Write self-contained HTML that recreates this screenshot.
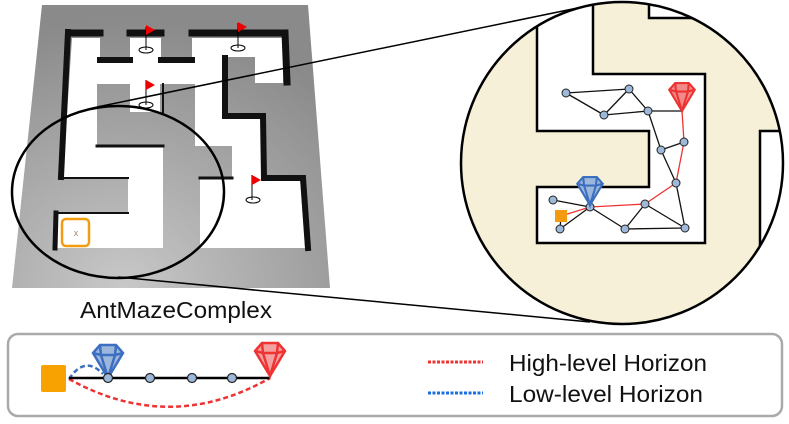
<!DOCTYPE html>
<html><head><meta charset="utf-8"><style>
html,body{margin:0;padding:0;background:#fff;}
svg{display:block;font-family:"Liberation Sans",sans-serif;}
</style></head><body>
<svg width="789" height="424" viewBox="0 0 789 424" xmlns="http://www.w3.org/2000/svg">
<defs>
<radialGradient id="gg" cx="0.35" cy="1" r="0.95">
<stop offset="0" stop-color="#c8c8c8"/><stop offset="1" stop-color="#8a8a8a"/>
</radialGradient>
<clipPath id="cc"><circle cx="622" cy="163" r="161"/></clipPath>
<g id="gem">
<polygon points="-8,0 8,0 15,8 0,33 -15,8" />
<polyline points="-15,8 -7,10 0,33 7,10 15,8" fill="none"/>
<polyline points="-8,0 -7,10 7,10 8,0" fill="none"/>
</g>
</defs>
<!-- left maze -->
<polygon points="42,5 308,5 330,288 12,288" fill="url(#gg)"/>
<polygon fill="#fff" points="72,38 100,38 100,60 130,60 130,38 161,38 161,60 192,60 192,38 283,38 283,83 255,83 255,57 223,57 223,115 262,115 262,178 300,178 305,248 200,248 200,178 232,178 232,146 195,146 195,84 160,84 160,112 130,112 130,84 97,84 97,146 163,146 163,248 57,248 57,213 128,213 128,178 63,178"/>
<g stroke="#111" fill="none" stroke-linecap="square">
<line x1="68" y1="32" x2="61" y2="177" stroke-width="6"/>
<line x1="70" y1="33" x2="100" y2="33" stroke-width="7"/>
<line x1="130" y1="33" x2="161" y2="33" stroke-width="7"/>
<line x1="192" y1="33" x2="283" y2="33" stroke-width="7"/>
<line x1="285" y1="33" x2="287" y2="82" stroke-width="7"/>
<line x1="100" y1="60" x2="130" y2="60" stroke-width="6"/>
<line x1="161" y1="60" x2="192" y2="60" stroke-width="6"/>
<polyline points="225,58 225,116 263,116 264,178 303,178 308,248" stroke-width="6"/>
<line x1="97" y1="146" x2="163" y2="146" stroke-width="3"/>
<line x1="62" y1="178" x2="128" y2="178" stroke-width="2"/>
<line x1="56" y1="213" x2="55" y2="248" stroke-width="5"/>
<line x1="57" y1="213" x2="128" y2="213" stroke-width="2"/>
<line x1="163" y1="84" x2="163" y2="112" stroke-width="2"/>
<line x1="200" y1="178" x2="232" y2="178" stroke-width="3"/>
</g>
<g stroke="#000" stroke-width="1" fill="none">
<ellipse cx="146" cy="50" rx="7" ry="3"/><line x1="146" y1="27" x2="146" y2="50"/>
<ellipse cx="238" cy="48" rx="7" ry="3"/><line x1="238" y1="23" x2="238" y2="48"/>
<ellipse cx="146" cy="105" rx="7" ry="3"/><line x1="146" y1="80" x2="146" y2="105"/>
<ellipse cx="253" cy="200" rx="7" ry="3"/><line x1="252" y1="175" x2="252" y2="200"/>
</g>
<g fill="#e00">
<polygon points="146,25 155,30 146,35"/><polygon points="238,22 247,27 238,32"/>
<polygon points="146,80 155,85 146,90"/><polygon points="252,175 261,180 252,185"/>
</g>
<rect x="62" y="219" width="27" height="27" rx="4" fill="none" stroke="#f39c12" stroke-width="2.5"/>
<text x="76" y="236" font-size="9" fill="#a87" text-anchor="middle">x</text>
<ellipse cx="118" cy="192" rx="106" ry="86" fill="none" stroke="#000" stroke-width="2.5"/>
<line x1="97" y1="107" x2="592" y2="5" stroke="#000" stroke-width="1.5"/>
<line x1="118" y1="277" x2="590" y2="322" stroke="#000" stroke-width="1.5"/>
<text x="176" y="318" font-size="23" text-anchor="middle" fill="#111" textLength="192" lengthAdjust="spacingAndGlyphs">AntMazeComplex</text>
<!-- big circle -->
<circle cx="622" cy="163" r="161" fill="#f6f0d9"/>
<g clip-path="url(#cc)">
<polygon points="537,0 593,0 593,74 705,74 705,243 537,243 537,187 649,187 649,131 537,131" fill="#fff" stroke="#000" stroke-width="2.5"/>
<polygon points="649,0 800,0 800,18 649,18" fill="#fff" stroke="#000" stroke-width="2.5"/>
<polygon points="760,131 800,131 800,260 760,260" fill="#fff" stroke="#000" stroke-width="2.5"/>
</g>
<circle cx="622" cy="163" r="161" fill="none" stroke="#000" stroke-width="2.5"/>
<g stroke="#111" stroke-width="1.3">
<line x1="566" y1="93" x2="629" y2="89"/><line x1="566" y1="93" x2="604" y2="115"/>
<line x1="604" y1="115" x2="629" y2="89"/><line x1="629" y1="89" x2="648" y2="111"/>
<line x1="604" y1="115" x2="648" y2="111"/><line x1="648" y1="111" x2="682" y2="111"/>
<line x1="648" y1="111" x2="661" y2="150"/><line x1="661" y1="150" x2="684" y2="142"/>
<line x1="661" y1="150" x2="676" y2="183"/><line x1="676" y1="183" x2="685" y2="228"/>
<line x1="685" y1="228" x2="625" y2="229"/><line x1="625" y1="229" x2="645" y2="204"/>
<line x1="645" y1="204" x2="685" y2="228"/><line x1="590" y1="207" x2="625" y2="229"/>
<line x1="590" y1="207" x2="560" y2="229"/><line x1="560" y1="229" x2="561" y2="216"/>
<line x1="553" y1="200" x2="590" y2="207"/>
</g>
<polyline points="561,216 590,207 645,204 676,183 684,142 682,111" fill="none" stroke="#e33" stroke-width="1.3"/>
<g fill="#9db8d8" stroke="#222" stroke-width="1">
<circle cx="566" cy="93" r="4"/><circle cx="629" cy="89" r="4"/><circle cx="604" cy="115" r="4"/>
<circle cx="648" cy="111" r="4"/><circle cx="661" cy="150" r="4"/><circle cx="684" cy="142" r="4"/>
<circle cx="676" cy="183" r="4"/><circle cx="645" cy="204" r="4"/><circle cx="590" cy="207" r="4"/>
<circle cx="553" cy="200" r="4"/><circle cx="560" cy="229" r="4"/><circle cx="625" cy="229" r="4"/>
<circle cx="685" cy="228" r="4"/>
</g>
<rect x="555" y="210" width="12" height="12" fill="#f39c12"/>
<use href="#gem" transform="translate(682,83) scale(0.85)" fill="#f28a8a" stroke="#e33" stroke-width="2.5"/>
<use href="#gem" transform="translate(590,177) scale(0.85)" fill="#9db6dc" stroke="#3d6fc0" stroke-width="2.5"/>
<!-- legend box -->
<rect x="8" y="334" width="774" height="82" rx="10" fill="#fff" stroke="#aaa" stroke-width="2.5"/>
<rect x="41" y="365" width="25" height="27" rx="2" fill="#f7a200"/>
<path d="M69,379 Q85,355 103,374" fill="none" stroke="#3d6fc0" stroke-width="2.5" stroke-dasharray="5,3"/>
<path d="M69,379 Q170,435 270,378" fill="none" stroke="#e33" stroke-width="2.5" stroke-dasharray="5,3"/>
<line x1="69" y1="378" x2="270" y2="378" stroke="#000" stroke-width="2.5"/>
<use href="#gem" transform="translate(108,345)" fill="#9db6dc" stroke="#3d6fc0" stroke-width="2.5"/>
<use href="#gem" transform="translate(270,343)" fill="#f5a0a0" stroke="#e33" stroke-width="2.5"/>
<g fill="#9db8d8" stroke="#222" stroke-width="1.2">
<circle cx="108" cy="378" r="4.5"/><circle cx="150" cy="378" r="4.5"/><circle cx="192" cy="378" r="4.5"/><circle cx="232" cy="378" r="4.5"/>
</g>
<line x1="428" y1="362" x2="483" y2="362" stroke="#e33" stroke-width="3" stroke-dasharray="3,1.5"/>
<line x1="428" y1="393" x2="483" y2="393" stroke="#1a6fe0" stroke-width="3" stroke-dasharray="3,1.5"/>
<text x="509" y="371" font-size="23" fill="#111" textLength="198" lengthAdjust="spacingAndGlyphs">High-level Horizon</text>
<text x="509" y="402" font-size="23" fill="#111" textLength="194" lengthAdjust="spacingAndGlyphs">Low-level Horizon</text>
</svg>
</body></html>
